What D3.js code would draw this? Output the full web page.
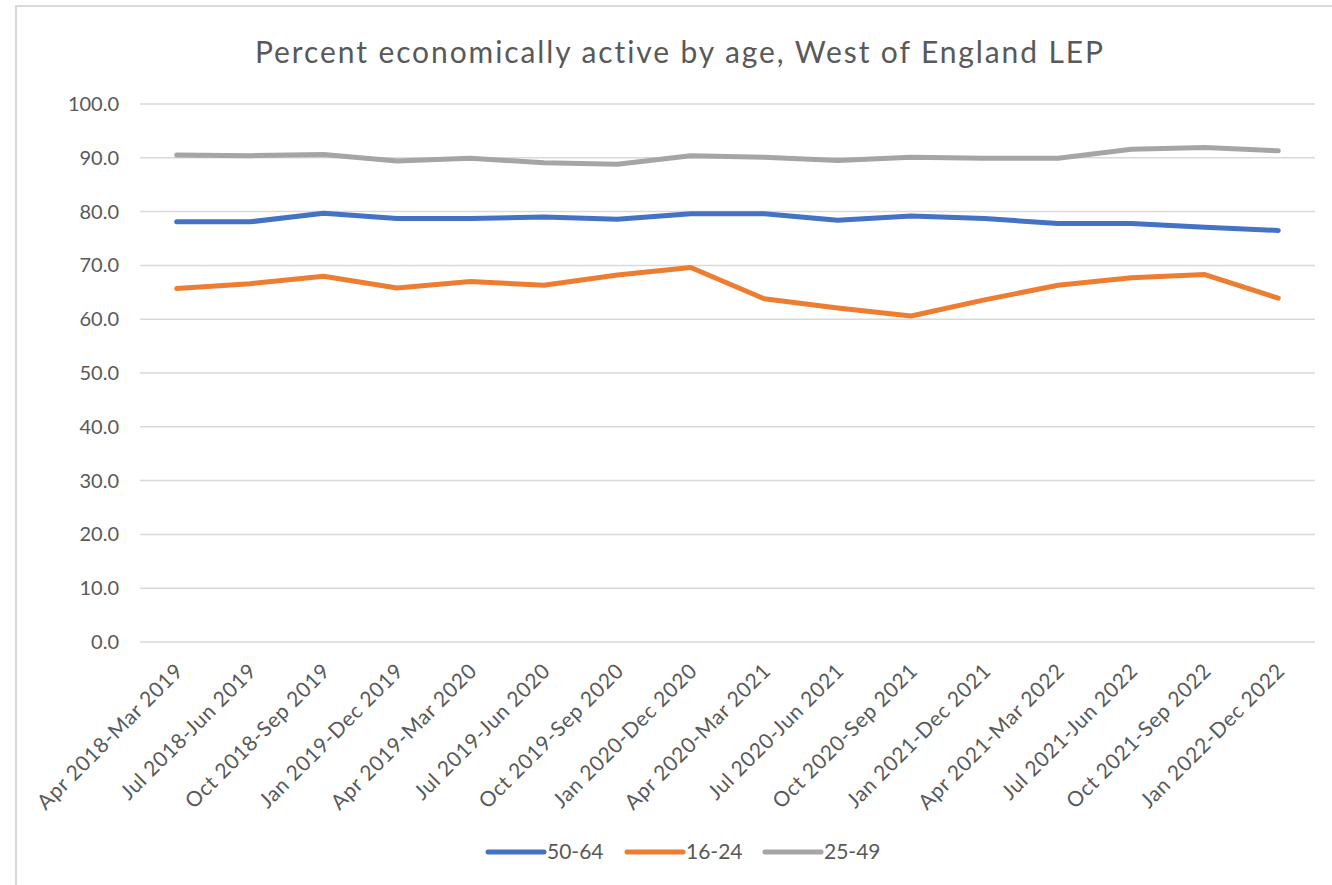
<!DOCTYPE html>
<html>
<head>
<meta charset="utf-8">
<script src="https://cdn.jsdelivr.net/npm/d3@7"></script>
<style>
  html, body { margin: 0; padding: 0; background: #ffffff; }
  svg { display: block; }
  text { font-family: Lato, "Open Sans", sans-serif; fill: #595959; }
</style>
</head>
<body>
<svg id="chart" width="1332" height="885"></svg>
<script>
const title = "Percent economically active by age, West of England LEP";
const categories = [
  "Apr 2018-Mar 2019", "Jul 2018-Jun 2019", "Oct 2018-Sep 2019", "Jan 2019-Dec 2019",
  "Apr 2019-Mar 2020", "Jul 2019-Jun 2020", "Oct 2019-Sep 2020", "Jan 2020-Dec 2020",
  "Apr 2020-Mar 2021", "Jul 2020-Jun 2021", "Oct 2020-Sep 2021", "Jan 2021-Dec 2021",
  "Apr 2021-Mar 2022", "Jul 2021-Jun 2022", "Oct 2021-Sep 2022", "Jan 2022-Dec 2022"
];
const seriesNames = ["50-64", "16-24", "25-49"];
const values5064 = [78.1, 78.1, 79.7, 78.7, 78.7, 79.0, 78.6, 79.6, 79.6, 78.4, 79.2, 78.7, 77.8, 77.8, 77.1, 76.5];
const values1624 = [65.7, 66.6, 68.0, 65.8, 67.0, 66.3, 68.2, 69.6, 63.8, 62.1, 60.6, 63.6, 66.3, 67.7, 68.3, 63.9];
const values2549 = [90.5, 90.4, 90.6, 89.4, 89.9, 89.1, 88.8, 90.4, 90.1, 89.5, 90.1, 89.9, 89.9, 91.6, 91.9, 91.3];
const seriesColors = ["#4472C4", "#ED7D31", "#A5A5A5"];
const yTicks = [0, 10, 20, 30, 40, 50, 60, 70, 80, 90, 100];

const series = [
  { name: seriesNames[0], values: values5064, color: seriesColors[0] },
  { name: seriesNames[1], values: values1624, color: seriesColors[1] },
  { name: seriesNames[2], values: values2549, color: seriesColors[2] }
];

const svg = d3.select("#chart");
const W = 1332, H = 885;
const plot = { left: 140, right: 1315, top: 104, bottom: 642 };

// frame
svg.append("rect")
  .attr("x", 16).attr("y", 6)
  .attr("width", W + 20).attr("height", H + 20)
  .attr("fill", "#ffffff")
  .attr("stroke", "#d9d9d9").attr("stroke-width", 2);

// title
svg.append("text")
  .attr("x", 680).attr("y", 63)
  .attr("text-anchor", "middle")
  .style("font-size", "30px")
  .style("letter-spacing", "1.9px")
  .text(title);

const x = d3.scalePoint().domain(categories).range([plot.left, plot.right]).padding(0.5);
const y = d3.scaleLinear().domain([0, 100]).range([plot.bottom, plot.top]);

// gridlines
svg.append("g").selectAll("line").data(yTicks).join("line")
  .attr("x1", plot.left).attr("x2", plot.right)
  .attr("y1", d => y(d)).attr("y2", d => y(d))
  .attr("stroke", "#d9d9d9").attr("stroke-width", 1.5);

// y axis
const yAxis = svg.append("g")
  .attr("transform", `translate(${plot.left},0)`)
  .call(d3.axisLeft(y).tickValues(yTicks).tickFormat(d3.format(".1f")).tickSize(0).tickPadding(21));
yAxis.select(".domain").remove();
yAxis.selectAll("text")
  .style("font-family", "Lato, 'Open Sans', sans-serif")
  .style("font-size", "20px")
  .attr("fill", "#595959");

// x axis
const xAxis = svg.append("g")
  .attr("transform", `translate(0,${plot.bottom})`)
  .call(d3.axisBottom(x).tickSize(0).tickPadding(0));
xAxis.select(".domain").remove();
xAxis.selectAll(".tick text")
  .style("font-family", "Lato, 'Open Sans', sans-serif")
  .style("font-size", "21px")
  .style("letter-spacing", "0.6px")
  .attr("fill", "#595959")
  .attr("text-anchor", "end")
  .attr("y", 0).attr("dy", "0.35em")
  .attr("transform", "translate(2,25) rotate(-45)");

// lines
const line = d3.line()
  .x((d, i) => x(categories[i]))
  .y(d => y(d));

svg.append("g").selectAll("path").data(series).join("path")
  .attr("d", d => line(d.values))
  .attr("fill", "none")
  .attr("stroke", d => d.color)
  .attr("stroke-width", 5)
  .attr("stroke-linejoin", "round")
  .attr("stroke-linecap", "round");

// legend
const legendX = [488, 627, 765];
const lg = svg.append("g").selectAll("g").data(series).join("g")
  .attr("transform", (d, i) => `translate(${legendX[i]},852)`);
lg.append("line")
  .attr("x1", 0).attr("x2", 56).attr("y1", 0).attr("y2", 0)
  .attr("stroke", d => d.color).attr("stroke-width", 5)
  .attr("stroke-linecap", "round");
lg.append("text")
  .attr("x", 59).attr("y", 0).attr("dy", "0.35em")
  .style("font-size", "21px")
  .text(d => d.name);
</script>
</body>
</html>
